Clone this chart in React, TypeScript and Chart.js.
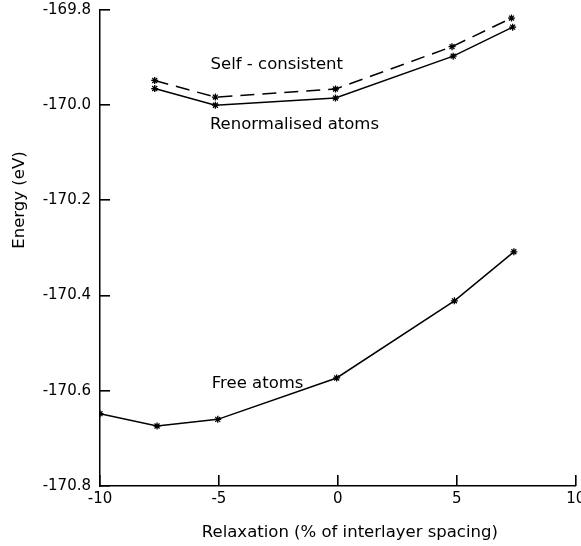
import React, { useEffect, useRef } from "react";
import { Chart, registerables } from "chart.js";

Chart.register(...registerables);

// ---- data ----
const selfX = [-7.7, -5.15, -0.1, 4.8, 7.3];
const selfY = [-169.948, -169.983, -169.966, -169.877, -169.817];
const renormX = [-7.7, -5.15, -0.1, 4.85, 7.35];
const renormY = [-169.965, -170.0, -169.985, -169.897, -169.836];
const freeX = [-10, -7.6, -5.05, -0.05, 4.9, 7.4];
const freeY = [-170.648, -170.674, -170.66, -170.573, -170.411, -170.308];

const xTicks = [-10, -5, 0, 5, 10];
const yTicks = [-169.8, -170.0, -170.2, -170.4, -170.6, -170.8];

const labelTexts = ["Self - consistent", "Renormalised atoms", "Free atoms"];
const labelX = [-5.35, -5.38, -5.3];
const labelY = [-169.916, -170.04, -170.586];

const xTitle = "Relaxation (% of interlayer spacing)";
const yTitle = "Energy (eV)";

const FONT = '"DejaVu Sans", sans-serif';

const zip = (xs: number[], ys: number[]) => xs.map((x, i) => ({ x, y: ys[i] }));

export default function App() {
  const ref = useRef<HTMLCanvasElement | null>(null);

  useEffect(() => {
    if (!ref.current) return;
    const decor = {
      id: "decor",
      afterDraw(chart: any) {
        const ctx = chart.ctx;
        const xs = chart.scales.x;
        const ys = chart.scales.y;
        const a = chart.chartArea;
        ctx.save();
        ctx.setLineDash([]);
        ctx.globalAlpha = 1;
        ctx.fillStyle = "#000";
        yTicks.forEach((v) => {
          const py = Math.round(ys.getPixelForValue(v));
          ctx.fillRect(a.left, py - 1, 10, 1.6);
        });
        xTicks.forEach((v) => {
          const px = Math.round(xs.getPixelForValue(v));
          ctx.fillRect(px - 1, a.bottom - 11, 1.6, 11);
        });

        ctx.font = `16.5px ${FONT}`;
        ctx.textAlign = "left";
        ctx.textBaseline = "middle";
        labelTexts.forEach((t, i) => {
          ctx.fillText(t, xs.getPixelForValue(labelX[i]), ys.getPixelForValue(labelY[i]));
        });

        ctx.textAlign = "center";
        ctx.fillText(xTitle, (a.left + a.right) / 2 + 12, a.bottom + 47);
        ctx.translate(20, (a.top + a.bottom) / 2 - 48);
        ctx.rotate(-Math.PI / 2);
        ctx.fillText(yTitle, 0, 0);
        ctx.restore();
      },
    };

    const common = {
      showLine: true,
      borderColor: "#000",
      borderWidth: 1.5,
      pointStyle: "star",
      pointRadius: 3.5,
      pointBorderWidth: 1.3,
      pointBorderColor: "#000",
      pointBackgroundColor: "#000",
    };

    const chart = new Chart(ref.current, {
      type: "scatter",
      data: {
        datasets: [
          { label: "Self-consistent", data: zip(selfX, selfY), borderDash: [14, 8], ...common },
          { label: "Renormalised atoms", data: zip(renormX, renormY), ...common },
          { label: "Free atoms", data: zip(freeX, freeY), ...common },
        ],
      },
      options: {
        animation: false,
        responsive: false,
        devicePixelRatio: 1,
        layout: { padding: { top: 10, right: 5, left: 0, bottom: 0 } },
        plugins: { legend: { display: false }, tooltip: { enabled: false } },
        scales: {
          x: {
            type: "linear",
            min: -10,
            max: 10,
            afterBuildTicks: (s: any) => {
              s.ticks = xTicks.map((v) => ({ value: v }));
            },
            ticks: {
              color: "#000",
              font: { family: FONT, size: 15 },
              padding: 4,
              callback: (v: any) => String(v),
            },
            grid: { display: false, drawTicks: false },
            border: { display: true, color: "#000", width: 1.5 },
            afterFit: (s: any) => {
              s.height = 60;
              s.paddingLeft = 0;
              s.paddingRight = 0;
            },
          },
          y: {
            type: "linear",
            min: -170.8,
            max: -169.8,
            afterBuildTicks: (s: any) => {
              s.ticks = yTicks.map((v) => ({ value: v }));
            },
            ticks: {
              color: "#000",
              font: { family: FONT, size: 15 },
              padding: 9,
              callback: (v: any) => Number(v).toFixed(1),
            },
            grid: { display: false, drawTicks: false },
            border: { display: true, color: "#000", width: 1.5 },
            afterFit: (s: any) => {
              s.width = 100;
              s.paddingTop = 0;
              s.paddingBottom = 0;
            },
          },
        },
      },
      plugins: [decor],
    } as any);
    return () => chart.destroy();
  }, []);

  return (
    <div style={{ position: "fixed", left: 0, top: 0, width: 581, height: 546, background: "#fff" }}>
      <canvas ref={ref} width={581} height={546} style={{ display: "block", width: 581, height: 546 }} />
    </div>
  );
}
